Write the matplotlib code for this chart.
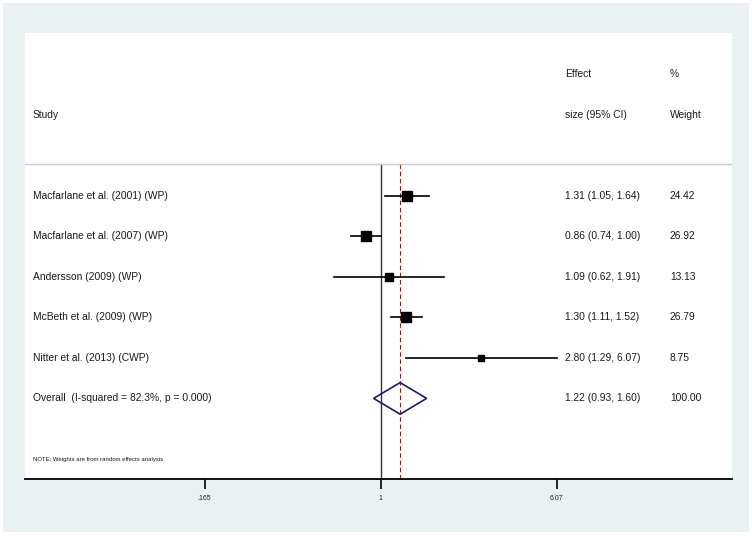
import numpy as np
import matplotlib
matplotlib.use("Agg")
import matplotlib.pyplot as plt
from matplotlib.patches import Rectangle, Polygon

plt.rcParams["font.family"] = ["Liberation Sans", "DejaVu Sans"]

# -- data --
studies = ["Macfarlane et al. (2001) (WP)", "Macfarlane et al. (2007) (WP)",
           "Andersson (2009) (WP)", "McBeth et al. (2009) (WP)",
           "Nitter et al. (2013) (CWP)"]
es = [1.31, 0.86, 1.09, 1.30, 2.80]
lo = [1.05, 0.74, 0.62, 1.11, 1.29]
hi = [1.64, 1.00, 1.91, 1.52, 6.07]
weights = [24.42, 26.92, 13.13, 26.79, 8.75]

overall_label = "Overall  (I-squared = 82.3%, p = 0.000)"
overall_es, overall_lo, overall_hi = 1.22, 0.93, 1.60

tick_vals = [0.165, 1, 6.07]
tick_labels = [".165", "1", "6.07"]

W, H = 752, 536
fig = plt.figure(figsize=(W / 100, H / 100), dpi=100, facecolor="white")

# light outer panel
fig.patches.append(Rectangle((3 / W, (H - 532) / H), 746 / W, 529 / H,
                             transform=fig.transFigure, facecolor="#EAF1F3",
                             edgecolor="none", zorder=-10))

ax = fig.add_axes([25 / W, (H - 479) / H, 707 / W, 446 / H])
ax.set_zorder(5)
ax.set_facecolor("white")
ax.set_xscale("log")
ax.set_xlim(np.exp(-3.64), np.exp(3.595))
ax.set_ylim(9.99, -1.02)

for s in ["top", "left", "right"]:
    ax.spines[s].set_visible(False)
ax.spines["bottom"].set_linewidth(1.3)
ax.set_yticks([])
ax.set_xticks(tick_vals)
ax.set_xticklabels(tick_labels)
ax.xaxis.set_minor_locator(matplotlib.ticker.NullLocator())
ax.tick_params(axis="x", length=7, width=1.2, labelsize=5, pad=4.5,
               labelcolor="#222222")

fs = 7.35
tc = "#1a1a1a"
xs, xe, xw = 0.0113, 0.7638, 0.9123
tr = ax.get_yaxis_transform()  # x in axes, y in data

# headers
ax.text(xe, 0, "Effect", transform=tr, fontsize=fs, va="center", color=tc)
ax.text(xw, 0, "%", transform=tr, fontsize=fs, va="center", color=tc)
ax.text(xs, 1, "Study", transform=tr, fontsize=fs, va="center", color=tc)
ax.text(xe, 1, "size (95% CI)", transform=tr, fontsize=fs, va="center", color=tc)
ax.text(xw, 1, "Weight", transform=tr, fontsize=fs, va="center", color=tc)
ax.axhline(2.22, color="#C8C8C8", lw=1.0)

# reference lines
ax.plot([1, 1], [2.22, 9.99], color="#333333", lw=1.0, zorder=1)
ax.plot([overall_es, overall_es], [2.22, 9.99], color="#8B1A1A", lw=0.8,
        ls=(0, (4, 2.5)), zorder=1)

# studies
for i, (name, e, l, h, w) in enumerate(zip(studies, es, lo, hi, weights)):
    y = 3 + i
    ax.plot([l, h], [y, y], color="black", lw=1.2, zorder=2)
    ax.plot(e, y, marker="s", color="black", ms=1.44 * np.sqrt(w), zorder=3)
    ax.text(xs, y, name, transform=tr, fontsize=fs, va="center", color=tc)
    ax.text(xe, y, f"{e:.2f} ({l:.2f}, {h:.2f})", transform=tr, fontsize=fs,
            va="center", color=tc)
    ax.text(xw, y, f"{w:.2f}", transform=tr, fontsize=fs, va="center", color=tc)

# overall diamond
yo = 8
ax.add_patch(Polygon([[overall_lo, yo], [overall_es, yo - 0.39],
                      [overall_hi, yo], [overall_es, yo + 0.39]],
                     closed=True, fill=False, edgecolor="#1B1B6B", lw=1.2,
                     zorder=3))
ax.text(xs, yo, overall_label, transform=tr, fontsize=fs, va="center", color=tc)
ax.text(xe, yo, f"{overall_es:.2f} ({overall_lo:.2f}, {overall_hi:.2f})",
        transform=tr, fontsize=fs, va="center", color=tc)
ax.text(xw, yo, "100.00", transform=tr, fontsize=fs, va="center", color=tc)

ax.text(xs, 9.5, "NOTE: Weights are from random effects analysis",
        transform=tr, fontsize=4.3, va="center", color=tc)

fig.savefig("out.png", dpi=100, facecolor="white")
